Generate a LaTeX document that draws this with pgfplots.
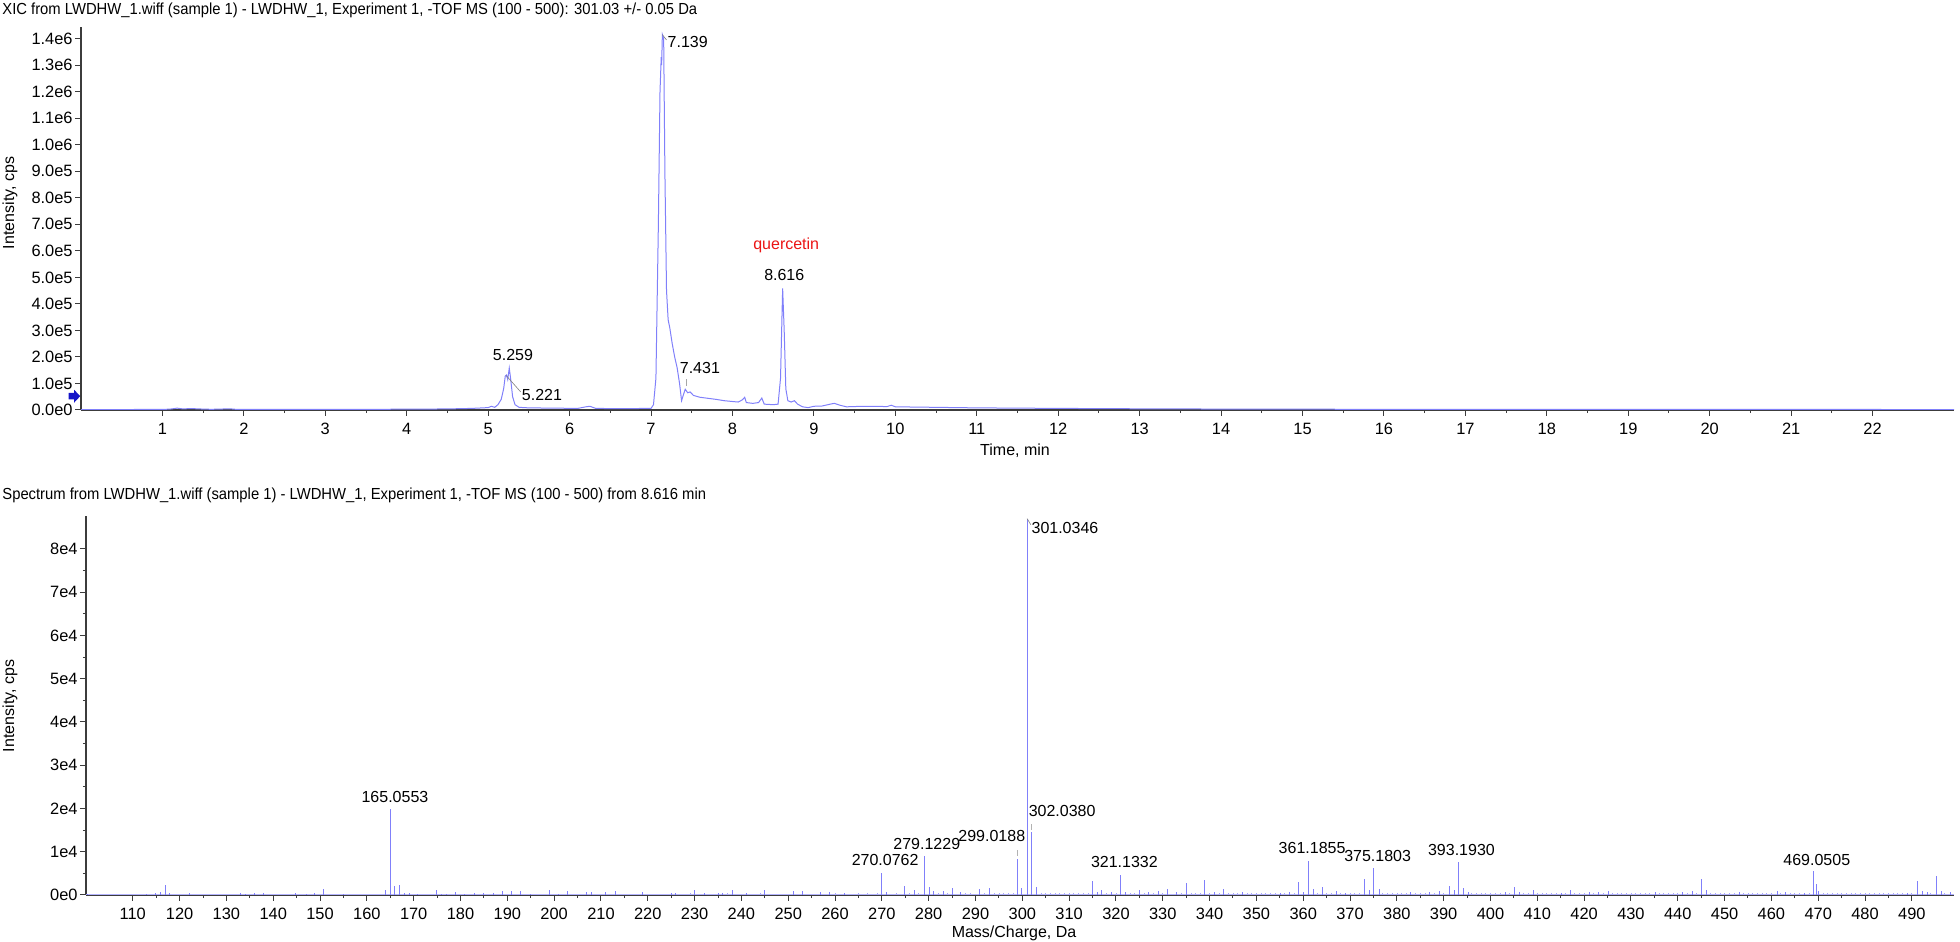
\documentclass[border=0pt]{standalone}
\usepackage{fontspec}
\setmainfont{Liberation Sans}
\usepackage{pgfplots}
\pgfplotsset{compat=1.18}
\definecolor{trace}{RGB}{128,128,250}
\definecolor{arrowblue}{RGB}{20,20,200}
\definecolor{axgray}{RGB}{60,60,60}
\definecolor{qred}{RGB}{235,20,20}

\pgfplotsset{
  ms/.style={
    scale only axis,
    axis x line*=bottom, axis y line*=left,
    axis line style={axgray, line width=0.7pt},
    tick align=outside,
    tick style={axgray, line width=0.5pt},
    major tick length=3pt, minor tick length=1.6pt,
    tick label style={font=\fontsize{8.2}{10}\selectfont},
    yticklabel style={inner sep=1pt},
    xticklabel style={inner sep=1pt, yshift=-2.5pt},
    /pgf/number format/assume math mode=true,
    /pgf/number format/1000 sep={},
    scaled ticks=false,
    clip mode=individual,
  },
}
\tikzset{
  lbl/.style={font=\fontsize{8}{10}\selectfont, inner sep=0pt},
  % the blue marker arrow drawn left of the y axis
  marker/.style={fill=arrowblue, draw=none},
}
\newcommand{\yarrow}[1]{%
  \fill[marker] (#1) ++(-0.4pt,0) -- ++(-3pt,3.2pt) -- ++(0,-1.6pt) -- ++(-2.8pt,0)
    -- ++(0,-3.2pt) -- ++(2.8pt,0) -- ++(0,-1.6pt) -- cycle;}

\begin{document}
\begin{tikzpicture}[font=\fontsize{8}{10}\selectfont]
\useasboundingbox (0,0) rectangle (980pt,471pt);

% titles and axis labels
\node[anchor=base west, inner sep=0pt] at (1pt,463.5pt)
  {\scalebox{0.925}[1]{XIC from LWDHW\_1.wiff (sample 1) - LWDHW\_1, Experiment 1, -TOF MS (100 - 500): 301.03 +/- 0.05 Da}};
\node[anchor=base west, inner sep=0pt] at (1pt,221pt)
  {\scalebox{0.925}[1]{Spectrum from LWDHW\_1.wiff (sample 1) - LWDHW\_1, Experiment 1, -TOF MS (100 - 500) from 8.616 min}};
\node[rotate=90, inner sep=0pt] at (5pt,369.5pt) {Intensity, cps};
\node[rotate=90, inner sep=0pt] at (5pt,118pt) {Intensity, cps};
\node[anchor=base, inner sep=0pt] at (507.5pt,243pt) {Time, min};
\node[anchor=base, inner sep=0pt] at (507pt,2pt) {Mass/Charge, Da};

% ================= XIC =================
\begin{axis}[ms,
  at={(40.5pt,266pt)}, anchor=south west,
  width=936.5pt, height=191.25pt,
  xmin=0, xmax=23, ymin=0, ymax=1442000,
  xtick={1,...,22}, minor x tick num=1,
  ytick={0,100000,...,1400000},
  yticklabels={0.0e0,1.0e5,2.0e5,3.0e5,4.0e5,5.0e5,6.0e5,7.0e5,8.0e5,9.0e5,1.0e6,1.1e6,1.2e6,1.3e6,1.4e6},
]
\addplot[trace, line width=0.5pt] coordinates {
  (0.00,1500) (0.5,1800) (1.0,2000) (1.10,3500) (1.18,7000) (1.25,4000)
  (1.35,5500) (1.45,4000) (1.6,2500) (1.83,4500) (1.9,2500) (2.5,2200)
  (3.0,2500) (3.5,2500) (4.0,3000) (4.5,4000) (4.8,6000) (5.0,9000)
  (5.04,14000) (5.08,10000) (5.12,20000) (5.16,40000) (5.19,80000)
  (5.21,128000) (5.225,132000) (5.24,115000) (5.259,158000) (5.275,120000)
  (5.30,50000) (5.33,20000) (5.38,10000) (5.5,8000) (5.8,7000) (6.1,6000)
  (6.2,12000) (6.25,14000) (6.32,6000) (6.6,5000) (7.0,6000) (7.03,20000)
  (7.06,120000) (7.09,700000) (7.11,1200000) (7.125,1330000) (7.13,1300000)
  (7.139,1415000) (7.155,1400000) (7.17,900000) (7.19,450000) (7.21,340000)
  (7.23,310000) (7.26,250000) (7.29,200000) (7.32,160000) (7.35,100000)
  (7.375,35000) (7.40,60000) (7.42,78000) (7.45,65000) (7.48,68000)
  (7.52,55000) (7.6,48000) (7.7,44000) (7.8,40000) (7.9,35000) (8.0,32000)
  (8.07,30000) (8.12,38000) (8.15,48000) (8.17,28000) (8.25,25000)
  (8.32,28000) (8.36,45000) (8.39,22000) (8.5,20000) (8.56,22000)
  (8.59,120000) (8.616,458000) (8.635,300000) (8.655,80000) (8.68,35000)
  (8.72,30000) (8.76,35000) (8.80,22000) (8.86,12000) (8.93,9000)
  (9.0,14000) (9.1,15000) (9.2,22000) (9.25,25000) (9.32,18000) (9.4,12000)
  (9.6,14000) (9.9,13000) (9.95,18000) (10.0,12000) (10.5,10000) (11,8000)
  (12,6000) (13,4500) (14,3500) (15,3000) (16,2500) (18,2000) (19.5,2500)
  (20,2000) (23,1800)
};
% peak labels
\draw[gray, line width=0.3pt] (axis cs:7.139,1415000) -- (axis cs:7.19,1395000);
\node[lbl, anchor=west] at (axis cs:7.20,1386000) {7.139};
\node[lbl] at (axis cs:5.305,208000) {5.259};
\draw[gray, line width=0.3pt] (axis cs:5.221,130000) -- (axis cs:5.40,68000);
\node[lbl, anchor=west] at (axis cs:5.41,57000) {5.221};
\draw[gray!70, line width=0.3pt] (axis cs:7.431,90000) -- (axis cs:7.431,115000);
\node[lbl] at (axis cs:7.60,160000) {7.431};
\node[lbl] at (axis cs:8.636,509000) {8.616};
\node[lbl, text=qred] at (axis cs:8.66,619000) {quercetin};
\yarrow{axis cs:0,52000}
\end{axis}

% ================= Spectrum =================
\begin{axis}[ms,
  at={(43pt,23.5pt)}, anchor=south west,
  width=934pt, height=189.5pt,
  xmin=100, xmax=499, ymin=0, ymax=87600,
  xtick={110,120,...,490}, minor x tick num=1,
  ytick={0,10000,...,80000}, minor y tick num=1,
  yticklabels={0e0,1e4,2e4,3e4,4e4,5e4,6e4,7e4,8e4},
]
% baseline noise sticks
\addplot[trace!70, ycomb, mark=none, line width=0.35pt] coordinates {
  (101,180)(102,220)(103,160)(104,250)(105,190)(106,210)(107,170)(108,230)(109,200)(110,260)
  (111,190)(112,210)(113,240)(114,220)(118,280)(119,200)(120,240)(121,190)(123,260)(124,210)
  (125,180)(126,230)(127,250)(128,200)(129,220)(130,190)(131,240)(135,260)(137,230)(139,210)
  (140,250)(141,190)(142,220)(143,270)(145,300)(146,240)(149,230)(151.9,260)(152,210)(153,240)
  (155.9,200)(156,230)(157,190)(158,250)(159,220)(160,200)(161,240)(162,290)(171,260)(172,230)
  (173,300)(177,250)(179.9,230)(181,260)(184,280)(186,300)(188,260)(191.9,280)(193.9,300)(195,270)
  (196,250)(197,290)(198,320)(200,280)(204,300)(205,260)(209,270)(210,250)(212,290)(214,300)
  (215,250)(216,280)(217,300)(220,270)(221,300)(222,250)(223,290)(224,320)(227,280)(228,300)
  (229,350)(231,300)(233,280)(234,320)(237,350)(239,300)(240,280)(242,330)(243,300)(244,350)
  (246,300)(247,280)(248,320)(249,300)(250,330)(252,300)(254,320)(255,290)(257,330)(259,300)
  (260,350)(261,300)(263,330)(264,300)(265,350)(266,320)(267,380)(268,300)(269,350)(272,320)
  (273,380)(275.9,400)(277.9,350)(282,380)(284,350)(287.9,380)(289,400)(291.9,350)(294,380)(295,350)
  (296,400)(297,380)(298,420)(304,420)(305,380)(306,350)(307,400)(308,370)(309,420)(310,380)
  (311,350)(312,400)(313,420)(314,380)(318,400)(320,380)(323,400)(324,380)(326,420)(328,400)
  (330,380)(333.9,420)(336,380)(337,400)(338,420)(340,400)(342,380)(344,420)(345,400)(346,380)
  (348,400)(349,420)(350,380)(351,400)(352,420)(353,380)(354,400)(356,420)(358,400)(363,420)
  (365,400)(366,380)(368,420)(370,400)(371,380)(372,420)(377,400)(378,380)(379,400)(380,420)
  (381,380)(382,400)(384,420)(385,400)(386,380)(388,420)(390,400)(396,380)(397,400)(398,420)
  (399,380)(400,400)(401,420)(402,380)(404,400)(407,420)(408,380)(410,400)(411,380)(412,420)
  (413,400)(414,380)(416,420)(418,400)(419,380)(420,420)(422,400)(424,380)(426,420)(427,400)
  (428,380)(429,420)(430,400)(431,380)(432,420)(433,400)(434,380)(436,420)(437,400)(438,380)
  (439,420)(440,400)(442,380)(444,420)(447,400)(448,380)(449,420)(450,400)(451,380)(452,420)
  (454,400)(455,380)(456,420)(457,400)(458,380)(459,420)(460,400)(462,380)(464,420)(465,400)
  (466,380)(468,420)(471,400)(472,380)(473,420)(474,400)(475,380)(476,420)(477,400)(478,380)
  (479,420)(480,400)(481,380)(482,420)(483,400)(484,380)(485,420)(486,400)(487,380)(488,420)
  (490,400)(494,380)(497,420)(499,400)
};
\addplot[trace!60, line width=0.4pt] coordinates {(100,120) (499,120)};
% main peaks
\addplot[trace, ycomb, mark=none, line width=0.45pt] coordinates {
  (100.4,250) (112.9,300) (114.9,450) (115.9,800) (116.9,2300) (117.9,400)
  (122.0,350) (132.9,450) (134.0,300) (136.0,450) (138.0,400) (144.8,450)
  (147.0,300) (148.9,450) (150.8,1500) (154.9,250) (163.9,1200) (165.06,19800)
  (165.9,2000) (167.0,2200) (168.0,550) (169.0,550) (170.9,250) (174.9,1200)
  (176.0,300) (176.9,300) (178.9,700) (180.9,300) (182.9,450) (185.0,550)
  (187.0,550) (189.0,1000) (190.9,900) (192.9,850) (194.9,250) (199.0,1150)
  (201.0,300) (202.9,850) (206.9,700) (207.9,700) (211.0,700) (213.0,850)
  (218.9,700) (225.0,500) (226.0,350) (230.0,1100) (232.0,450) (235.0,500)
  (236.0,500) (238.0,1200) (241.0,400) (245.0,1200) (251.1,1000) (253.1,900)
  (256.9,700) (258.9,700) (262.0,400) (270.0,5000) (271.0,800) (274.9,2100)
  (276.9,1200) (279.0,8900) (280.1,1900) (281.1,1000) (283.1,1000) (285.0,1700)
  (286.8,600) (290.9,1400) (292.9,1600) (299.0,8400) (299.9,1700) (301.03,87000)
  (302.0,14500) (303.0,1900) (315.0,3200) (316.1,800) (317.0,1100) (319.0,700)
  (321.0,4700) (322.0,800) (325.0,1100) (327.0,800) (329.0,1000) (331.0,1400)
  (332.9,600) (335.0,2700) (339.0,3400) (341.0,600) (343.0,1300) (347.0,600)
  (355.1,500) (357.1,600) (359.0,3000) (360.0,800) (361.1,7900) (362.1,1500)
  (364.1,1800) (367.1,1000) (369.0,450) (373.1,3800) (374.1,1150) (375.1,6300)
  (376.2,1400) (383.0,600) (387.0,600) (389.1,900) (391.2,2100) (392.2,1100)
  (393.2,7700) (394.2,1700) (395.2,800) (403.2,600) (405.2,1850) (406.2,800)
  (409.2,1150) (415.1,550) (417.1,1200) (421.2,800) (423.1,800) (425.1,850)
  (435.2,800) (441.1,700) (443.2,900) (445.1,3600) (446.2,1100) (453.2,700)
  (461.2,850) (463.1,600) (467.1,450) (469.0,5500) (469.6,2500) (470.1,1000)
  (489.0,450) (491.3,3200) (492.2,900) (493.3,600) (495.2,4300) (496.3,1000)
  (498.2,600)
};
% peak labels
\node[lbl] at (axis cs:166.0,22600) {165.0553};
\draw[gray, line width=0.3pt] (axis cs:301.03,87000) -- (axis cs:301.8,85600);
\node[lbl, anchor=west] at (axis cs:301.9,84900) {301.0346};
\draw[gray!60, line width=0.4pt, densely dashed] (axis cs:302.04,15000) -- (axis cs:302.04,16900);
\node[lbl, anchor=west] at (axis cs:301.3,19400) {302.0380};
\draw[gray!60, line width=0.4pt, densely dashed] (axis cs:299.02,9000) -- (axis cs:299.02,10700);
\node[lbl, anchor=east] at (axis cs:300.7,13600) {299.0188};
\node[lbl] at (axis cs:279.6,11900) {279.1229};
\node[lbl] at (axis cs:270.7,8000) {270.0762};
\node[lbl] at (axis cs:321.8,7700) {321.1332};
\node[lbl] at (axis cs:361.9,10900) {361.1855};
\node[lbl] at (axis cs:375.9,9000) {375.1803};
\node[lbl] at (axis cs:393.8,10400) {393.1930};
\node[lbl] at (axis cs:469.7,8100) {469.0505};
\yarrow{axis cs:100,3800}
\end{axis}
\end{tikzpicture}
\end{document}
